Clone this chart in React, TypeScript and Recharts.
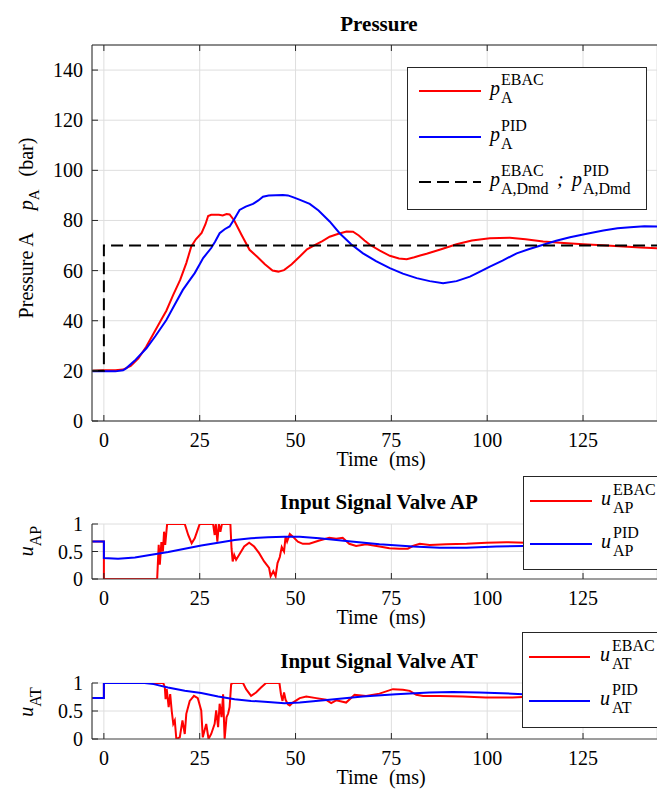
import React from 'react';
import { LineChart, Line, XAxis, YAxis, CartesianGrid } from 'recharts';

const FONT = '"Liberation Serif", "Times New Roman", serif';
const AXIS = '#262626';
const GRID = '#dedede';
const RED = '#ff0000';
const BLUE = '#0000ff';

const timeTicks = [0, 25, 50, 75, 100, 125];
const timeDomain: [number, number] = [-3.1, 144.3];
const pressureTicks = [0, 20, 40, 60, 80, 100, 120, 140];
const signalTicks = [0, 0.5, 1];

// pressure in bar, time in ms
const pressureEbac: [number, number][] = [
  [-3, 20], [0, 20.2], [3, 20.2], [5, 20.5], [7, 22], [9, 25], [11, 29.5], [13, 35], [15, 40.5],
  [16.3, 44], [18, 50], [19.9, 56.3], [21.5, 63], [22.8, 69.6], [24, 72.5], [25.5, 75], [26.5, 78.5],
  [27.2, 81.8], [28, 82.3], [30, 82.3], [31, 82], [32, 82.6], [32.8, 82.4], [34, 80], [36, 74],
  [38, 68.3], [40, 65.5], [42, 62.5], [44, 60], [45.5, 59.6], [47, 60.2], [49, 62.5], [51.1, 65.6],
  [53, 68.5], [55, 70.2], [57, 71.8], [58.9, 73.5], [61, 74.6], [63.3, 75.6], [65, 75.5], [66.5, 74],
  [68, 72], [69.4, 70.3], [72, 68], [74.6, 65.9], [77, 64.8], [79, 64.5], [81, 65.3], [82.5, 66],
  [84.2, 66.7], [88, 68.5], [92, 70.5], [96, 72], [100.7, 72.9], [105.9, 73.1], [110, 72.5],
  [114.6, 71.6], [120, 71], [125, 70.5], [130, 70.1], [135.5, 69.6], [140, 69.2], [145, 68.9],
];

const pressurePid: [number, number][] = [
  [-3, 19.8], [0, 19.8], [3, 19.8], [5, 20.2], [5.8, 21], [8, 24], [11.1, 29], [13.5, 34], [16.3, 40.3],
  [18.5, 46.5], [20.6, 52.3], [22.3, 56], [23.7, 59], [25, 62.5], [25.9, 65], [28, 69], [29, 71.5],
  [30.2, 74.9], [31.5, 76.5], [32.8, 77.6], [34, 80.5], [35.4, 84.2], [37, 85.5], [38.9, 86.6],
  [40.3, 88], [41.5, 89.5], [43, 90], [46.7, 90.2], [48, 90], [49.3, 89.3], [51, 88.3], [53.7, 86.6],
  [56, 84], [58.9, 79.6], [61.5, 74.9], [64.5, 70.5], [67.6, 66.9], [71, 63.8], [74.6, 61], [78, 58.8],
  [81.6, 57], [85, 55.8], [88.5, 55], [92, 55.8], [95.5, 57.6], [98, 59.5], [100.7, 61.6], [104, 64],
  [107.7, 66.9], [111, 68.6], [114.6, 70.3], [118, 71.9], [121.6, 73.3], [126, 74.7], [130.3, 76],
  [134, 76.9], [137.3, 77.3], [141, 77.7], [145, 77.6],
];

const pressureDemand: [number, number][] = [[-3, 20], [0, 20], [0, 70], [145, 70]];

const uApEbac: [number, number][] = [
  [-3, 0.68], [0, 0.68], [0, 0], [13.9, 0], [14.3, 0.62], [14.6, 0.26], [15, 0.67], [15.4, 0.5],
  [15.7, 0.86], [16, 0.62], [16.5, 1], [21.1, 1], [22, 0.8], [22.9, 0.65], [23.7, 0.74], [24.6, 0.92],
  [25, 1], [28.5, 1], [28.9, 0.8], [29.2, 1], [29.6, 0.68], [30, 1], [30.4, 0.86], [30.8, 1], [33, 1],
  [33.3, 0.56], [33.6, 0.32], [34, 0.44], [34.5, 0.35], [35.3, 0.44], [36.6, 0.59], [37.9, 0.66],
  [39.2, 0.59], [40.5, 0.47], [41.8, 0.32], [43.1, 0.2], [43.5, 0.05], [44.2, 0.14], [44.8, 0.05],
  [45.3, 0.29], [45.9, 0.4], [46.4, 0.58], [47, 0.5], [47.4, 0.77], [47.8, 0.68], [48.5, 0.82],
  [49.3, 0.77], [50.6, 0.68], [51.9, 0.64], [53.6, 0.64], [56.2, 0.7], [58.8, 0.75], [60.6, 0.73],
  [62.3, 0.75], [64, 0.64], [65.8, 0.6], [68.4, 0.63], [71.9, 0.59], [74.5, 0.56], [77.1, 0.55],
  [79.3, 0.55], [80.6, 0.6], [82.4, 0.64], [85, 0.62], [89.3, 0.63], [94.6, 0.64], [99.8, 0.66],
  [105, 0.67], [110, 0.66], [120, 0.65], [130, 0.64], [145, 0.64],
];

const uApPid: [number, number][] = [
  [-3, 0.68], [0, 0.68], [0, 0.38], [3.7, 0.37], [8.1, 0.39], [12.4, 0.44], [16.8, 0.49], [21.1, 0.55],
  [25.4, 0.61], [29.8, 0.66], [34.1, 0.71], [38.4, 0.74], [42.8, 0.76], [47.1, 0.77], [51.1, 0.77],
  [56.2, 0.74], [63.2, 0.69], [71.9, 0.63], [80.6, 0.59], [87.6, 0.57], [94.6, 0.57], [102.4, 0.59],
  [109.4, 0.6], [120, 0.62], [132, 0.63], [145, 0.64],
];

const uAtEbac: [number, number][] = [
  [-3, 0.73], [0, 0.73], [0, 1], [15.5, 1], [15.9, 0.92], [16.1, 0.71], [16.4, 0.89], [16.9, 0.57],
  [17.3, 0.8], [17.7, 0.5], [18.1, 0.27], [18.5, 0.33], [18.9, 0], [19.8, 0.03], [20.5, 0.33],
  [21.1, 0.09], [21.5, 0.45], [22.4, 0.68], [23.5, 0.77], [24.5, 0.73], [25.4, 0.51], [25.8, 0.03],
  [26.7, 0.27], [27.3, 0], [28, 0.09], [28.9, 0.27], [29.3, 0.51], [29.8, 0.21], [30.2, 0.63],
  [30.7, 0.39], [31.1, 0.8], [31.5, 0], [32, 0.39], [32.4, 0.45], [32.8, 0.57], [33.2, 0.98],
  [33.7, 1], [36.3, 1], [37.1, 0.89], [38.4, 0.77], [39.7, 0.83], [41, 0.92], [42.3, 1], [45.8, 1],
  [46.2, 0.8], [46.6, 0.68], [47, 0.83], [47.4, 0.7], [48, 0.62], [48.5, 0.6], [49.3, 0.65],
  [51.1, 0.73], [52.8, 0.76], [55.4, 0.73], [58, 0.7], [59.3, 0.64], [60.6, 0.69], [63.2, 0.65],
  [65.4, 0.79], [68.4, 0.77], [71.9, 0.81], [75.4, 0.89], [78, 0.88], [79.8, 0.86], [81.5, 0.79],
  [83.3, 0.77], [87.6, 0.77], [93.6, 0.76], [99.6, 0.74], [106.6, 0.74], [109.4, 0.75], [120, 0.75],
  [145, 0.75],
];

const uAtPid: [number, number][] = [
  [-3, 0.73], [0, 0.73], [0, 1], [10.6, 1], [13, 0.98], [16.7, 0.92], [21.1, 0.86], [25.4, 0.82],
  [29.8, 0.76], [34.1, 0.71], [38.4, 0.68], [42.8, 0.66], [47.1, 0.64], [51.1, 0.65], [58.8, 0.7],
  [67.5, 0.76], [76.2, 0.8], [84.9, 0.83], [91, 0.84], [97.9, 0.83], [106.6, 0.81], [109.4, 0.8],
  [120, 0.78], [132, 0.77], [145, 0.76],
];

const rows = (pts: [number, number][]) => pts.map(([t, v]) => ({ t, v }));

type Series = { pts: [number, number][]; color: string; dash?: string; name: string };

// MATLAB style ticks: pointing into the plot, label outside
const BottomTick = ({ x, y, payload }: any) => (
  <g>
    <line x1={x} x2={x} y1={y} y2={y - 6} stroke={AXIS} />
    <text x={x} y={y + 26} textAnchor="middle" fontSize={20} fontFamily={FONT} fill="#000">{payload.value}</text>
  </g>
);
const TopTick = ({ x, y }: any) => <line x1={x} x2={x} y1={y} y2={y + 6} stroke={AXIS} />;
const LeftTick = ({ x, y, payload }: any) => (
  <g>
    <line x1={x} x2={x + 6} y1={y} y2={y} stroke={AXIS} />
    <text x={x - 9} y={y + 7} textAnchor="end" fontSize={20} fontFamily={FONT} fill="#000">{payload.value}</text>
  </g>
);

function Panel({ top, height, margin, yDomain, yTicks, series, box, bottomStroke }: {
  top: number; height: number; margin: { top: number; bottom: number };
  yDomain: [number, number]; yTicks: number[]; series: Series[]; box?: boolean; bottomStroke: string;
}) {
  return (
    <div style={{ position: 'absolute', left: 0, top }}>
      <LineChart width={657} height={height}
        margin={{ top: margin.top - (box ? 10 : 0), bottom: margin.bottom - 30, left: 32, right: 0 }}>
        <CartesianGrid stroke={GRID} strokeWidth={1} />
        <XAxis type="number" dataKey="t" domain={timeDomain} ticks={timeTicks} allowDataOverflow
          height={30} tickSize={0} tickMargin={0} tickLine={false} tick={<BottomTick />} interval={0}
          axisLine={{ stroke: bottomStroke, strokeWidth: 1.2 }} />
        {box && (
          <XAxis xAxisId="top" orientation="top" type="number" dataKey="t" domain={timeDomain} ticks={timeTicks}
            allowDataOverflow height={10} tickSize={0} tickMargin={0} tickLine={false} tick={<TopTick />}
            interval={0} axisLine={{ stroke: AXIS }} />
        )}
        <YAxis type="number" domain={yDomain} ticks={yTicks} allowDataOverflow width={60}
          tickSize={0} tickMargin={0} tickLine={false} tick={<LeftTick />} interval={0}
          axisLine={{ stroke: AXIS }} />
        {series.map((s) => (
          <Line key={s.name} data={rows(s.pts)} dataKey="v" type="linear" stroke={s.color} strokeWidth={2}
            strokeDasharray={s.dash} dot={false} isAnimationActive={false} />
        ))}
      </LineChart>
    </div>
  );
}

const SupSub = ({ x, y, base, sup, sub, size = 20, small = 16, dx = 11, up = 10, down = 8 }: any) => (
  <g fontFamily={FONT} fill="#000">
    <text x={x} y={y} fontSize={size} fontStyle="italic">{base}</text>
    <text x={x + dx} y={y - up} fontSize={small}>{sup}</text>
    <text x={x + dx} y={y + down} fontSize={small}>{sub}</text>
  </g>
);

const TimeLabel = ({ y }: { y: number }) => (
  <text x={381} y={y} fontSize={20} fontFamily={FONT} fill="#000" textAnchor="middle">
    Time<tspan dx={11}>(ms)</tspan>
  </text>
);

const Overlay = () => (
  <svg width={657} height={791} style={{ position: 'absolute', left: 0, top: 0, pointerEvents: 'none' }}>
    <g fontFamily={FONT} fill="#000" textAnchor="middle">
      <text x={379} y={31} fontSize={21} fontWeight="bold">Pressure</text>
      <text x={379} y={509} fontSize={21} fontWeight="bold">Input Signal Valve AP</text>
      <text x={379} y={668} fontSize={21} fontWeight="bold">Input Signal Valve AT</text>
    </g>
    <TimeLabel y={466} />
    <TimeLabel y={624} />
    <TimeLabel y={784} />
    <g fontFamily={FONT} fill="#000" textAnchor="middle">
      <text transform="translate(33,228) rotate(-90)" fontSize={20}>
        Pressure A<tspan dx={22} fontStyle="italic">p</tspan>
        <tspan dy={6} fontSize={15}>A</tspan>
        <tspan dy={-6} dx={13}>(bar)</tspan>
      </text>
      <text transform="translate(33,541) rotate(-90)" fontSize={20}>
        <tspan fontStyle="italic">u</tspan><tspan dy={8} fontSize={16}>AP</tspan>
      </text>
      <text transform="translate(33,702) rotate(-90)" fontSize={20}>
        <tspan fontStyle="italic">u</tspan><tspan dy={8} fontSize={16}>AT</tspan>
      </text>
    </g>

    <rect x={407.5} y={67.5} width={239} height={142} fill="#fff" stroke={AXIS} strokeWidth={1} />
    <line x1={419} x2={481} y1={91} y2={91} stroke={RED} strokeWidth={2} />
    <SupSub x={490} y={95} base="p" sup="EBAC" sub="A" />
    <line x1={419} x2={481} y1={137} y2={137} stroke={BLUE} strokeWidth={2} />
    <SupSub x={490} y={141} base="p" sup="PID" sub="A" />
    <line x1={419} x2={481} y1={182} y2={182} stroke="#000" strokeWidth={2} strokeDasharray="12 6" />
    <SupSub x={490} y={186} base="p" sup="EBAC" sub="A,Dmd" />
    <text x={557} y={186} fontSize={20} fontFamily={FONT} fontStyle="italic">;</text>
    <SupSub x={572} y={186} base="p" sup="PID" sub="A,Dmd" />

    <rect x={523.5} y={476.5} width={150} height={93} fill="#fff" stroke={AXIS} strokeWidth={1} />
    <line x1={530} x2={592} y1={501} y2={501} stroke={RED} strokeWidth={2} />
    <SupSub x={601} y={505} base="u" sup="EBAC" sub="AP" dx={12} />
    <line x1={530} x2={592} y1={544} y2={544} stroke={BLUE} strokeWidth={2} />
    <SupSub x={601} y={548} base="u" sup="PID" sub="AP" dx={12} />

    <rect x={522.5} y={632.5} width={150} height={95} fill="#fff" stroke={AXIS} strokeWidth={1} />
    <line x1={529} x2={590} y1={657} y2={657} stroke={RED} strokeWidth={2} />
    <SupSub x={600} y={661} base="u" sup="EBAC" sub="AT" dx={12} />
    <line x1={529} x2={590} y1={701} y2={701} stroke={BLUE} strokeWidth={2} />
    <SupSub x={600} y={705} base="u" sup="PID" sub="AT" dx={12} />
  </svg>
);

export default function App() {
  return (
    <div style={{ position: 'fixed', left: 0, top: 0, width: 657, height: 791, overflow: 'hidden', background: '#fff' }}>
      <Panel top={0} height={470} margin={{ top: 45, bottom: 49 }} yDomain={[0, 150]} yTicks={pressureTicks} box
        bottomStroke={AXIS}
        series={[
          { pts: pressureEbac, color: RED, name: 'ebac' },
          { pts: pressurePid, color: BLUE, name: 'pid' },
          { pts: pressureDemand, color: '#000', dash: '12 6', name: 'dmd' },
        ]} />
      <Panel top={470} height={160} margin={{ top: 54, bottom: 51 }} yDomain={[0, 1]} yTicks={signalTicks}
        bottomStroke="#4d4d4d"
        series={[
          { pts: uApEbac, color: RED, name: 'ebac' },
          { pts: uApPid, color: BLUE, name: 'pid' },
        ]} />
      <Panel top={630} height={161} margin={{ top: 53, bottom: 52 }} yDomain={[0, 1]} yTicks={signalTicks}
        bottomStroke="#4d4d4d"
        series={[
          { pts: uAtEbac, color: RED, name: 'ebac' },
          { pts: uAtPid, color: BLUE, name: 'pid' },
        ]} />
      <Overlay />
    </div>
  );
}
